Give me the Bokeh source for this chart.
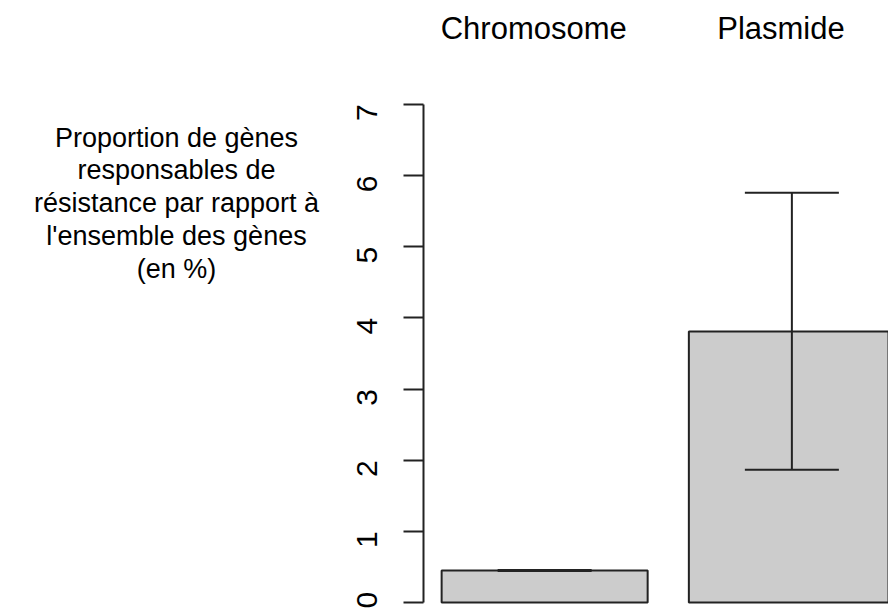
import math
from bokeh.plotting import figure
from bokeh.layouts import row
from bokeh.models import (Range1d, LinearAxis, FixedTicker, Whisker, TeeHead,
                          ColumnDataSource)
from bokeh.core.properties import value
from bokeh.embed import file_html
from bokeh.resources import INLINE

# ---- data ----
categories = ["Chromosome", "Plasmide"]
means = [0.45, 3.81]
lower = [0.442, 1.866]
upper = [0.458, 5.757]
y_ticks = [0, 1, 2, 3, 4, 5, 6, 7]
y_label_lines = ["Proportion de gènes", "responsables de",
                 "résistance par rapport à", "l'ensemble des gènes", "(en %)"]

# R barplot layout: width 1, space 0.2
bar_width = 1.0
space = 0.2
centers = [space * (i + 1) + bar_width * i + bar_width / 2 for i in range(len(categories))]

src = ColumnDataSource(dict(x=centers, top=means, lower=lower, upper=upper,
                            name=categories))

FONT = "Liberation Sans"
DARK = "#222222"
H = 608
TOP = 84              # top of the plotting frame (px)
LEFT_W = 330
LABEL_CX = 176        # centre of the y title block (px)
FIRST_BASE = 137      # baseline of its first line (px from top)
LINE_STEP = 32.75     # line spacing (px)
TOP_NUDGE = -0.053    # horizontal nudge of the top category labels (data units)

# ---- left panel holding the y-axis title (frame aligned with the main frame) ----
lp = figure(width=LEFT_W, height=H, output_backend="svg", toolbar_location=None,
            x_range=Range1d(0, LEFT_W), y_range=Range1d(H, TOP),
            x_axis_location=None, y_axis_location=None,
            min_border_left=0, min_border_right=0,
            min_border_top=TOP, min_border_bottom=0)
lp.grid.visible = False
lp.outline_line_color = None
lp.background_fill_color = "white"
lp.border_fill_color = "white"
lsrc = ColumnDataSource(dict(
    x=[LABEL_CX] * len(y_label_lines),
    y=[FIRST_BASE + i * LINE_STEP for i in range(len(y_label_lines))],
    text=y_label_lines))
lp.text(x="x", y="y", text="text", source=lsrc, text_align="center",
        text_baseline="alphabetic", text_font=value(FONT), text_font_size="27px",
        text_color="black")

# ---- main bar chart ----
p = figure(width=888 - LEFT_W, height=H, output_backend="svg", toolbar_location=None,
           x_range=Range1d(0.112, 2.369), y_range=Range1d(-0.0843, 7.28),
           x_axis_location=None, y_axis_location=None,
           min_border_left=423 - LEFT_W, min_border_right=0,
           min_border_top=TOP, min_border_bottom=0)
p.grid.visible = False
p.outline_line_color = None
p.background_fill_color = "white"
p.border_fill_color = "white"

p.vbar(x="x", width=bar_width, top="top", bottom=0, source=src,
       fill_color="#CCCCCC", line_color=DARK, line_width=2)

whisk = Whisker(base="x", upper="upper", lower="lower", source=src,
                line_color=DARK, line_width=2, level="annotation",
                upper_head=TeeHead(size=94, line_color=DARK, line_width=2),
                lower_head=TeeHead(size=94, line_color=DARK, line_width=2))
p.add_layout(whisk)

yaxis = LinearAxis(ticker=FixedTicker(ticks=y_ticks), bounds=(0, 7),
                   major_tick_out=20, major_tick_in=0,
                   minor_tick_line_color=None,
                   major_label_orientation=math.pi / 2,
                   major_label_text_font=FONT,
                   major_label_text_font_size="30px",
                   major_label_text_color="black",
                   major_label_standoff=36,
                   axis_line_color=DARK, axis_line_width=2,
                   major_tick_line_color=DARK, major_tick_line_width=2)
p.add_layout(yaxis, "left")

top_ticks = [c + TOP_NUDGE for c in centers]
xaxis = LinearAxis(ticker=FixedTicker(ticks=top_ticks),
                   major_label_overrides={t: n for t, n in zip(top_ticks, categories)},
                   axis_line_color=None, major_tick_line_color=None,
                   minor_tick_line_color=None,
                   major_tick_out=0, major_tick_in=0,
                   major_label_text_font=FONT,
                   major_label_text_font_size="31px",
                   major_label_text_color="black",
                   major_label_standoff=39)
p.add_layout(xaxis, "above")

layout = row(lp, p, spacing=0)
open("out.html", "w").write(file_html(layout, INLINE))
